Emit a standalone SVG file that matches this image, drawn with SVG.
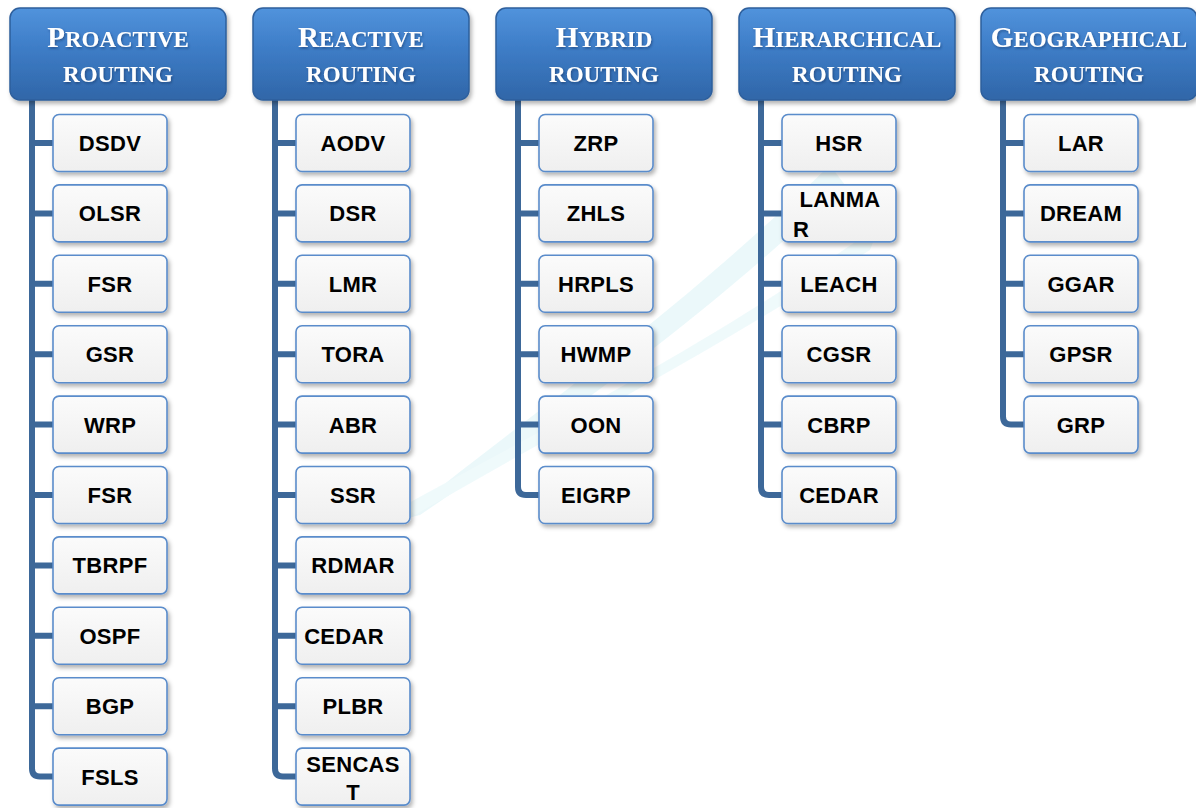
<svg xmlns="http://www.w3.org/2000/svg" width="1196" height="808" viewBox="0 0 1196 808">
<defs>
<linearGradient id="hg" x1="0" y1="0" x2="0" y2="1">
<stop offset="0" stop-color="#5193dc"/>
<stop offset="0.45" stop-color="#3d7cc6"/>
<stop offset="1" stop-color="#3066a8"/>
</linearGradient>
<linearGradient id="bg" x1="0" y1="0" x2="0" y2="1">
<stop offset="0" stop-color="#fbfbfb"/>
<stop offset="1" stop-color="#efefef"/>
</linearGradient>
<filter id="sh" x="-10%" y="-10%" width="130%" height="140%">
<feDropShadow dx="2" dy="3" stdDeviation="2" flood-color="#000" flood-opacity="0.3"/>
</filter>
<filter id="ts" x="-5%" y="-20%" width="110%" height="150%">
<feDropShadow dx="1" dy="1.5" stdDeviation="0.8" flood-color="#0b2a55" flood-opacity="0.5"/>
</filter>
</defs>
<style>
.hdr{fill:url(#hg);stroke:#2d5f9c;stroke-width:1.5;filter:url(#sh)}
.ht{font-family:"Liberation Serif",serif;font-weight:bold;fill:#fff;text-anchor:middle;filter:url(#ts)}
.big{font-size:29px}
.sm{font-size:23px}
.box{fill:url(#bg);stroke:#5a8ccb;stroke-width:1.6;filter:url(#sh)}
.lt{font-family:"Liberation Sans",Arial,sans-serif;font-weight:bold;font-size:22px;fill:#000;text-anchor:middle;letter-spacing:0.3px}
.st{text-anchor:start}
.con{fill:none;stroke:#3d6899;stroke-width:6;stroke-linejoin:round}
</style>
<rect width="1196" height="808" fill="#fff"/>
<g id="watermark" opacity="0.6">
<path d="M400 520 C 520 420, 660 330, 830 165 L 845 185 C 690 330, 560 420, 420 515 Z" fill="#def4f7"/>
<path d="M405 505 C 560 420, 700 350, 880 225 L 870 250 C 700 360, 560 430, 415 515 Z" fill="#e6f7f9"/>
</g>
<g id="connectors">
<path class="con" d="M32 100 V768.6 Q32 776.6 40 776.6 H53 M32 143 H53 M32 213.4 H53 M32 283.8 H53 M32 354.2 H53 M32 424.6 H53 M32 495 H53 M32 565.4 H53 M32 635.8 H53 M32 706.2 H53"/>
<path class="con" d="M275 100 V768.6 Q275 776.6 283 776.6 H296 M275 143 H296 M275 213.4 H296 M275 283.8 H296 M275 354.2 H296 M275 424.6 H296 M275 495 H296 M275 565.4 H296 M275 635.8 H296 M275 706.2 H296"/>
<path class="con" d="M518 100 V487 Q518 495 526 495 H539 M518 143 H539 M518 213.4 H539 M518 283.8 H539 M518 354.2 H539 M518 424.6 H539"/>
<path class="con" d="M761 100 V487 Q761 495 769 495 H782 M761 143 H782 M761 213.4 H782 M761 283.8 H782 M761 354.2 H782 M761 424.6 H782"/>
<path class="con" d="M1003 100 V416.6 Q1003 424.6 1011 424.6 H1024 M1003 143 H1024 M1003 213.4 H1024 M1003 283.8 H1024 M1003 354.2 H1024"/>
</g>
<g id="h-proactive"><rect class="hdr" x="10" y="8" width="216" height="92" rx="10"/>
<text class="ht" x="118" y="47"><tspan class="big">P</tspan><tspan class="sm">ROACTIVE</tspan></text>
<text class="ht sm" x="118" y="82">ROUTING</text></g>
<g id="h-reactive"><rect class="hdr" x="253" y="8" width="216" height="92" rx="10"/>
<text class="ht" x="361" y="47"><tspan class="big">R</tspan><tspan class="sm">EACTIVE</tspan></text>
<text class="ht sm" x="361" y="82">ROUTING</text></g>
<g id="h-hybrid"><rect class="hdr" x="496" y="8" width="216" height="92" rx="10"/>
<text class="ht" x="604" y="47"><tspan class="big">H</tspan><tspan class="sm">YBRID</tspan></text>
<text class="ht sm" x="604" y="82">ROUTING</text></g>
<g id="h-hierarchical"><rect class="hdr" x="739" y="8" width="216" height="92" rx="10"/>
<text class="ht" x="847" y="47"><tspan class="big">H</tspan><tspan class="sm">IERARCHICAL</tspan></text>
<text class="ht sm" x="847" y="82">ROUTING</text></g>
<g id="h-geographical"><rect class="hdr" x="981" y="8" width="216" height="92" rx="10"/>
<text class="ht" x="1089" y="47"><tspan class="big">G</tspan><tspan class="sm">EOGRAPHICAL</tspan></text>
<text class="ht sm" x="1089" y="82">ROUTING</text></g>

<g id="n-dsdv"><rect class="box" x="53" y="114.5" width="114" height="57" rx="6"/><text class="lt" x="110" y="151">DSDV</text></g>
<g id="n-olsr"><rect class="box" x="53" y="184.9" width="114" height="57" rx="6"/><text class="lt" x="110" y="221.4">OLSR</text></g>
<g id="n-fsr1"><rect class="box" x="53" y="255.3" width="114" height="57" rx="6"/><text class="lt" x="110" y="291.8">FSR</text></g>
<g id="n-gsr"><rect class="box" x="53" y="325.7" width="114" height="57" rx="6"/><text class="lt" x="110" y="362.2">GSR</text></g>
<g id="n-wrp"><rect class="box" x="53" y="396.1" width="114" height="57" rx="6"/><text class="lt" x="110" y="432.6">WRP</text></g>
<g id="n-fsr2"><rect class="box" x="53" y="466.5" width="114" height="57" rx="6"/><text class="lt" x="110" y="503">FSR</text></g>
<g id="n-tbrpf"><rect class="box" x="53" y="536.9" width="114" height="57" rx="6"/><text class="lt" x="110" y="573.4">TBRPF</text></g>
<g id="n-ospf"><rect class="box" x="53" y="607.3" width="114" height="57" rx="6"/><text class="lt" x="110" y="643.8">OSPF</text></g>
<g id="n-bgp"><rect class="box" x="53" y="677.7" width="114" height="57" rx="6"/><text class="lt" x="110" y="714.2">BGP</text></g>
<g id="n-fsls"><rect class="box" x="53" y="748.1" width="114" height="57" rx="6"/><text class="lt" x="110" y="784.6">FSLS</text></g>

<g id="n-aodv"><rect class="box" x="296" y="114.5" width="114" height="57" rx="6"/><text class="lt" x="353" y="151">AODV</text></g>
<g id="n-dsr"><rect class="box" x="296" y="184.9" width="114" height="57" rx="6"/><text class="lt" x="353" y="221.4">DSR</text></g>
<g id="n-lmr"><rect class="box" x="296" y="255.3" width="114" height="57" rx="6"/><text class="lt" x="353" y="291.8">LMR</text></g>
<g id="n-tora"><rect class="box" x="296" y="325.7" width="114" height="57" rx="6"/><text class="lt" x="353" y="362.2">TORA</text></g>
<g id="n-abr"><rect class="box" x="296" y="396.1" width="114" height="57" rx="6"/><text class="lt" x="353" y="432.6">ABR</text></g>
<g id="n-ssr"><rect class="box" x="296" y="466.5" width="114" height="57" rx="6"/><text class="lt" x="353" y="503">SSR</text></g>
<g id="n-rdmar"><rect class="box" x="296" y="536.9" width="114" height="57" rx="6"/><text class="lt" x="353" y="573.4">RDMAR</text></g>
<g id="n-cedar1"><rect class="box" x="296" y="607.3" width="114" height="57" rx="6"/><text class="lt" x="344" y="643.8">CEDAR</text></g>
<g id="n-plbr"><rect class="box" x="296" y="677.7" width="114" height="57" rx="6"/><text class="lt" x="353" y="714.2">PLBR</text></g>
<g id="n-sencast"><rect class="box" x="296" y="748.1" width="114" height="57" rx="6"/><text class="lt" x="353" y="772">SENCAS</text><text class="lt" x="353" y="800">T</text></g>

<g id="n-zrp"><rect class="box" x="539" y="114.5" width="114" height="57" rx="6"/><text class="lt" x="596" y="151">ZRP</text></g>
<g id="n-zhls"><rect class="box" x="539" y="184.9" width="114" height="57" rx="6"/><text class="lt" x="596" y="221.4">ZHLS</text></g>
<g id="n-hrpls"><rect class="box" x="539" y="255.3" width="114" height="57" rx="6"/><text class="lt" x="596" y="291.8">HRPLS</text></g>
<g id="n-hwmp"><rect class="box" x="539" y="325.7" width="114" height="57" rx="6"/><text class="lt" x="596" y="362.2">HWMP</text></g>
<g id="n-oon"><rect class="box" x="539" y="396.1" width="114" height="57" rx="6"/><text class="lt" x="596" y="432.6">OON</text></g>
<g id="n-eigrp"><rect class="box" x="539" y="466.5" width="114" height="57" rx="6"/><text class="lt" x="596" y="503">EIGRP</text></g>

<g id="n-hsr"><rect class="box" x="782" y="114.5" width="114" height="57" rx="6"/><text class="lt" x="839" y="151">HSR</text></g>
<g id="n-lanmar"><rect class="box" x="782" y="184.9" width="114" height="57" rx="6"/><text class="lt" x="840" y="207">LANMA</text><text class="lt st" x="793" y="237">R</text></g>
<g id="n-leach"><rect class="box" x="782" y="255.3" width="114" height="57" rx="6"/><text class="lt" x="839" y="291.8">LEACH</text></g>
<g id="n-cgsr"><rect class="box" x="782" y="325.7" width="114" height="57" rx="6"/><text class="lt" x="839" y="362.2">CGSR</text></g>
<g id="n-cbrp"><rect class="box" x="782" y="396.1" width="114" height="57" rx="6"/><text class="lt" x="839" y="432.6">CBRP</text></g>
<g id="n-cedar2"><rect class="box" x="782" y="466.5" width="114" height="57" rx="6"/><text class="lt" x="839" y="503">CEDAR</text></g>

<g id="n-lar"><rect class="box" x="1024" y="114.5" width="114" height="57" rx="6"/><text class="lt" x="1081" y="151">LAR</text></g>
<g id="n-dream"><rect class="box" x="1024" y="184.9" width="114" height="57" rx="6"/><text class="lt" x="1081" y="221.4">DREAM</text></g>
<g id="n-ggar"><rect class="box" x="1024" y="255.3" width="114" height="57" rx="6"/><text class="lt" x="1081" y="291.8">GGAR</text></g>
<g id="n-gpsr"><rect class="box" x="1024" y="325.7" width="114" height="57" rx="6"/><text class="lt" x="1081" y="362.2">GPSR</text></g>
<g id="n-grp"><rect class="box" x="1024" y="396.1" width="114" height="57" rx="6"/><text class="lt" x="1081" y="432.6">GRP</text></g>
</svg>
